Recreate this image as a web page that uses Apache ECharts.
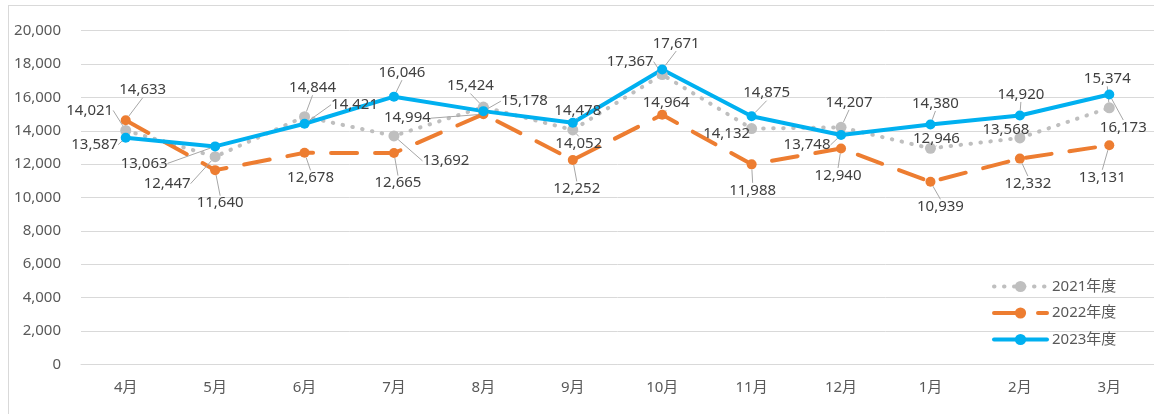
<!DOCTYPE html>
<html><head><meta charset="utf-8">
<script src="https://cdn.jsdelivr.net/npm/echarts@6/dist/echarts.min.js"></script>
<style>
html,body{margin:0;padding:0;width:1154px;height:414px;overflow:hidden;background:#fff;}
#frame{position:absolute;left:8px;top:5px;width:2000px;height:2000px;border-left:1px solid #d9d9d9;border-top:1px solid #d9d9d9;box-sizing:border-box;}
#chart{position:absolute;left:0;top:0;width:1154px;height:414px;}
</style></head><body>
<div id="frame"></div><div id="chart"></div>
<script>
// ---- data ----
const categories = ['4月','5月','6月','7月','8月','9月','10月','11月','12月','1月','2月','3月'];
const seriesNames = ['2021年度','2022年度','2023年度'];
const values2021 = [14021,12447,14844,13692,15424,14052,17367,14132,14207,12946,13568,15374];
const values2022 = [14633,11640,12678,12665,14994,12252,14964,11988,12940,10939,12332,13131];
const values2023 = [13587,13063,14421,16046,15178,14478,17671,14875,13748,14380,14920,16173];
const yMin = 0, yMax = 20000, yInterval = 2000;

// ---- label placement (pixel offsets from each point, layout only) ----
const labelOffsets2021 = [[-36,-20],[-48,27],[8,-29],[52,25],[-13,-21],[6,14],[-32,-13],[-25,5],[8,-25],[6,-10],[-14,-8],[-2,-29]];
const labelOffsets2022 = [[17,-30],[5,33],[6,25],[4,30],[-76,4],[4,29],[4,-12],[1,26],[-3,27],[10,25],[8,25],[-7,32]];
const labelOffsets2023 = [[-31,7],[-71,17],[50,-19],[8,-24],[41,-10],[5,-12],[14,-26],[15,-23],[-34,10],[5,-21],[1,-21],[14,33]];
const labelOffsets = [labelOffsets2021, labelOffsets2022, labelOffsets2023];

const FONT = '"Noto Sans", "Noto Sans CJK JP", sans-serif';
const fmt = v => Number(v).toLocaleString('en-US');

function makeSeries(idx, values, color, lineType, cap, symbolSize) {
  return {
    name: seriesNames[idx],
    type: 'line',
    data: values,
    symbol: 'circle',
    symbolSize: symbolSize,
    showSymbol: true,
    itemStyle: { color: color },
    lineStyle: { color: color, width: 4, type: lineType, cap: cap, join: 'round' },
    label: {
      show: true,
      position: 'inside',
      formatter: p => fmt(p.value),
      color: '#404040',
      fontFamily: FONT,
      fontSize: 15,
      textBorderWidth: 0
    },
    labelLine: { show: true, lineStyle: { color: '#a6a6a6', width: 1 } },
    labelLayout: function (params) {
      const o = labelOffsets[idx][params.dataIndex];
      return { dx: o[0], dy: o[1] };
    },
    emphasis: { disabled: true }
  };
}

const chart = echarts.init(document.getElementById('chart'), null, { renderer: 'canvas' });
chart.setOption({
  animation: false,
  backgroundColor: 'transparent',
  grid: { left: 81, top: 30.7, width: 1076, bottom: 49.7, containLabel: false },
  legend: {
    orient: 'vertical',
    left: 987, top: 274,
    itemWidth: 53, itemHeight: 14, itemGap: 11.5,
    lineStyle: { width: 4 },
    textStyle: { color: '#595959', fontFamily: FONT, fontSize: 15 },
    data: seriesNames
  },
  xAxis: {
    type: 'category',
    data: categories,
    boundaryGap: true,
    axisLine: { show: true, lineStyle: { color: '#d9d9d9', width: 1 } },
    axisTick: { show: false },
    axisLabel: { color: '#595959', fontFamily: FONT, fontSize: 15, margin: 16 },
    splitLine: { show: false }
  },
  yAxis: {
    type: 'value',
    min: yMin, max: yMax, interval: yInterval,
    axisLine: { show: false },
    axisTick: { show: false },
    axisLabel: { color: '#595959', fontFamily: FONT, fontSize: 15, margin: 20, formatter: v => fmt(v) },
    splitLine: { show: true, lineStyle: { color: '#d9d9d9', width: 1 } }
  },
  series: [
    makeSeries(0, values2021, '#bfbfbf', [0.5, 9.5], 'round', 11),
    makeSeries(1, values2022, '#ed7d31', [26, 18], 'round', 10),
    makeSeries(2, values2023, '#00b0f0', 'solid', 'round', 10)
  ]
});
</script>
</body></html>
